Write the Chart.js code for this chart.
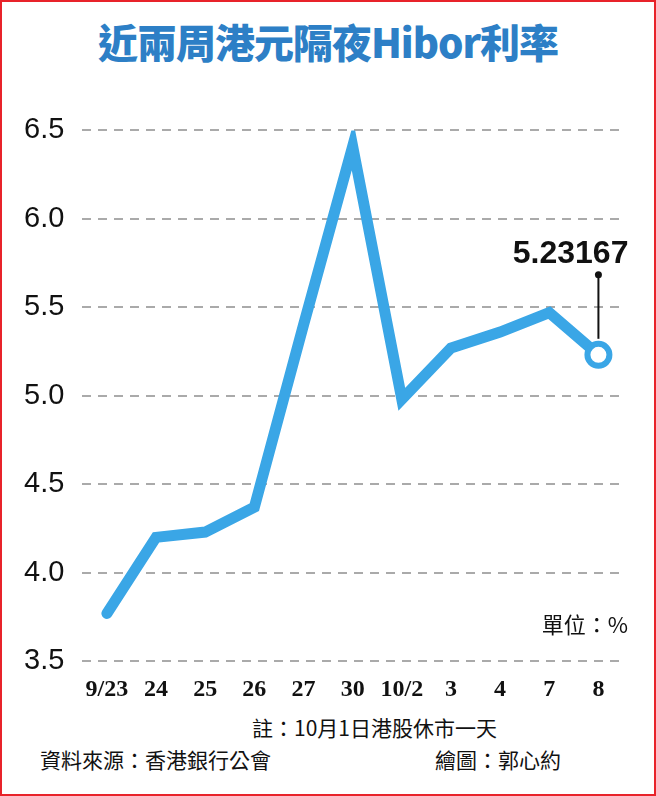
<!DOCTYPE html>
<html><head><meta charset="utf-8">
<script src="https://cdn.jsdelivr.net/npm/chart.js@4/dist/chart.umd.min.js"></script>
<style>
body{margin:0;width:656px;height:796px;background:#fff;font-family:"Noto Sans CJK TC","Noto Sans",sans-serif;}
#frame{position:absolute;left:0;top:0;width:652px;height:792px;border:2px solid #e8232a;}
#title{position:absolute;left:0;width:656px;top:12px;text-align:center;font-size:40px;font-weight:900;color:#2d7fc6;letter-spacing:-1px;}
#wrap{position:absolute;left:0;top:95px;width:640px;height:615px;}
.note{position:absolute;font-size:21px;color:#111;}
</style></head><body>
<div id="frame"></div>
<div id="title">近兩周港元隔夜Hibor利率</div>
<div id="wrap"><canvas id="c" width="640" height="615"></canvas></div>
<div class="note" style="left:252px;top:712px;">註：10月1日港股休市一天</div>
<div class="note" style="left:40px;top:744px;">資料來源：香港銀行公會</div>
<div class="note" style="left:435px;top:744px;">繪圖：郭心約</div>
<script>
const categories=["9/23","24","25","26","27","30","10/2","3","4","7","8"];
const hibor=[3.77,4.20,4.23,4.37,5.40,6.41,4.98,5.27,5.36,5.47,5.23167];
const yTicks=[3.5,4.0,4.5,5.0,5.5,6.0,6.5];
const lastLabel="5.23167";
const anno={id:"anno",afterDatasetsDraw(ch){
 const {ctx,scales:{x,y},chartArea}=ch;const i=hibor.length-1;
 const px=x.getPixelForValue(i),py=y.getPixelForValue(hibor[i]);
 ctx.save();ctx.strokeStyle="#111";ctx.lineWidth=2;
 ctx.beginPath();ctx.moveTo(px,py-16);ctx.lineTo(px,py-80);ctx.stroke();
 ctx.fillStyle="#111";ctx.beginPath();ctx.arc(px,py-80,3.5,0,7);ctx.fill();
 ctx.font="bold 32px 'Liberation Sans',Arial";ctx.textAlign="right";ctx.fillText(lastLabel,px+30,py-92);
 ctx.font="22px 'Noto Sans CJK TC'";ctx.textAlign="right";ctx.fillText("單位：%",chartArea.right+5,chartArea.bottom-28);
 ctx.restore();}};
new Chart(document.getElementById("c"),{type:"line",
 data:{labels:categories,datasets:[{data:hibor,borderColor:"#3aa6e6",borderWidth:11,tension:0,
  borderCapStyle:"round",borderJoinStyle:"miter",
  pointRadius:hibor.map((v,i)=>i===hibor.length-1?11:0),pointBorderWidth:6,
  pointBackgroundColor:"#fff",pointBorderColor:"#3aa6e6"}]},
 options:{responsive:false,animation:false,devicePixelRatio:1,
  layout:{padding:{left:6,right:10,top:10}},
  plugins:{legend:{display:false},tooltip:{enabled:false}},
  scales:{
   x:{offset:true,grid:{display:false},border:{display:false},
    ticks:{color:"#111",font:{family:"Liberation Serif",size:24,weight:"bold"},padding:6,maxRotation:0,autoSkip:false}},
   y:{min:3.5,max:6.5,afterBuildTicks:a=>{a.ticks=yTicks.map(v=>({value:v}));},
    grid:{color:"#aaa",lineWidth:2,drawTicks:false},border:{display:false,dash:[9,7]},
    ticks:{color:"#111",font:{family:"Liberation Sans",size:29},padding:18,callback:v=>v.toFixed(1)}}}},
 plugins:[anno]});
</script>
</body></html>
